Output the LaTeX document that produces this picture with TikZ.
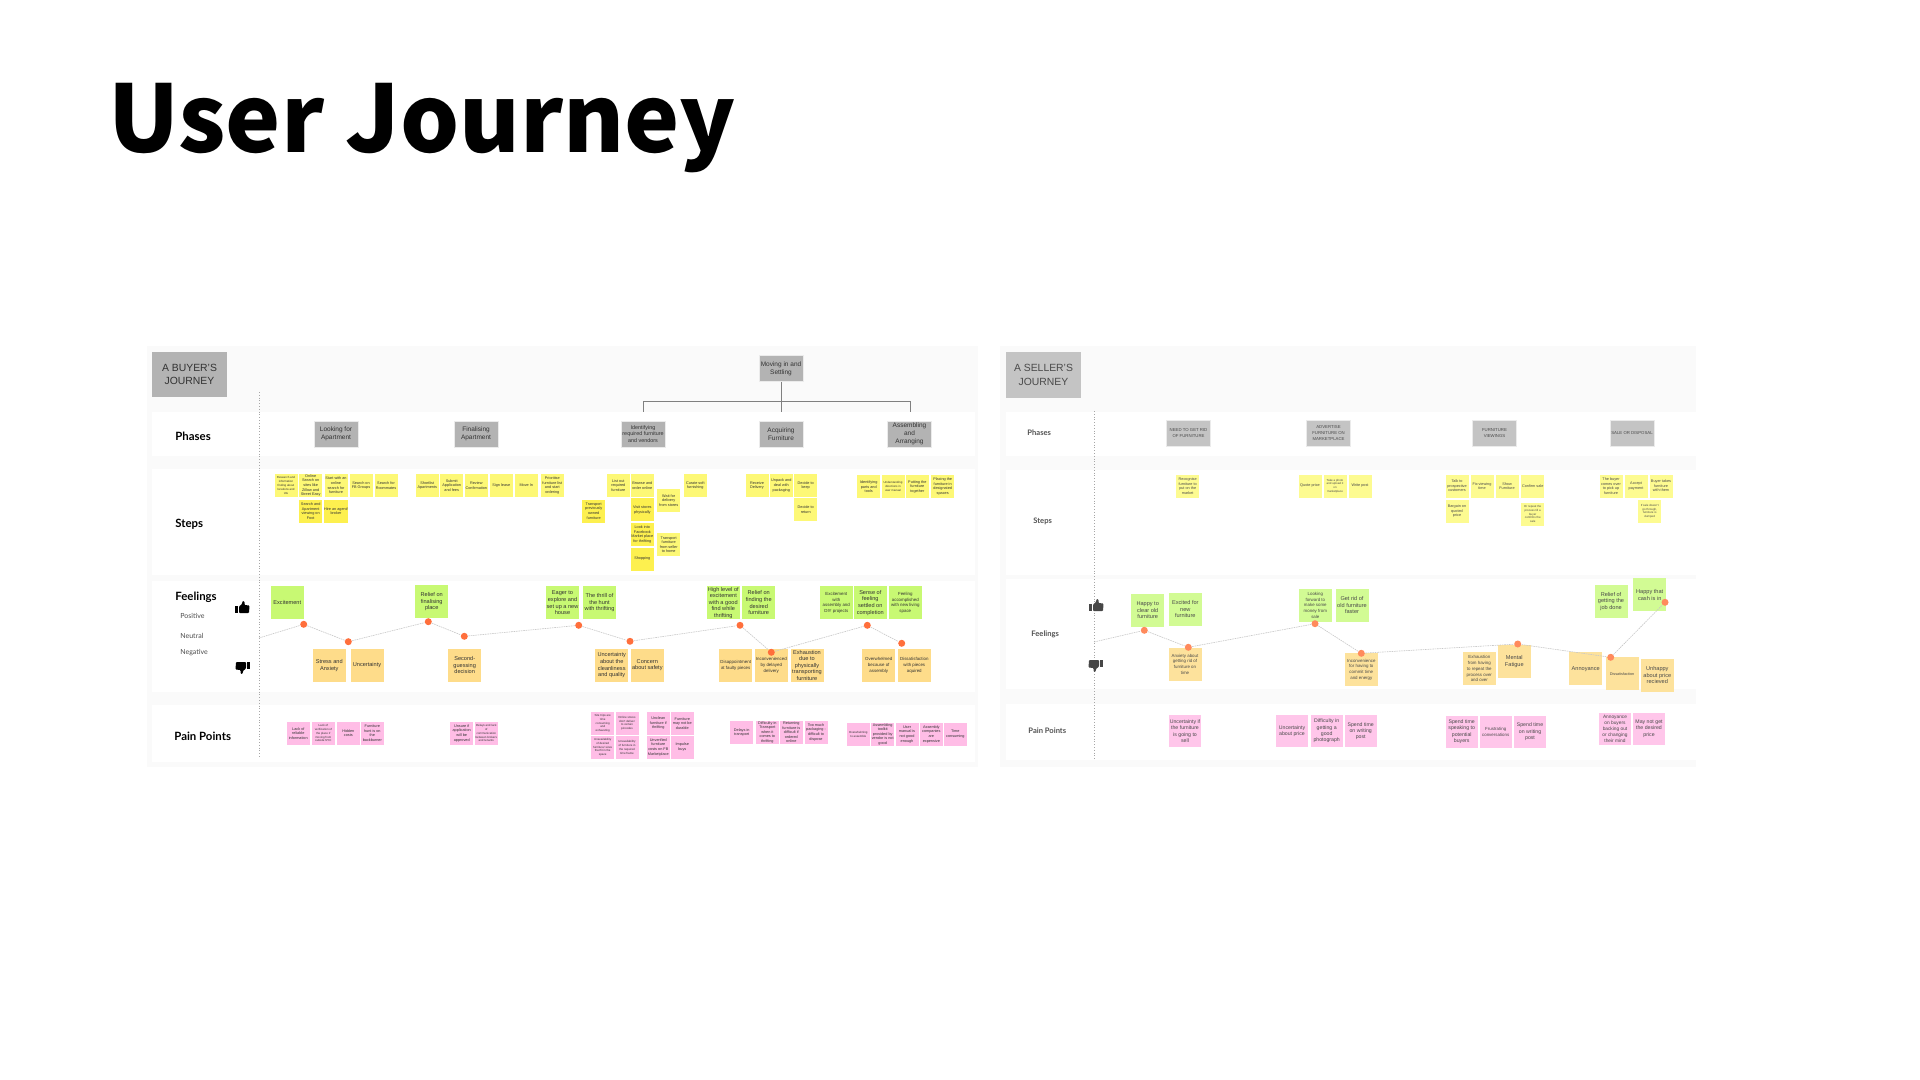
\documentclass[tikz,border=0pt]{standalone}
\usepackage{fontspec}
\setmainfont{Liberation Sans}
\newfontfamily\titlefont{Noto Sans CJK SC}
\newfontfamily\labelfont{Lato}
\usetikzlibrary{calc,positioning,shapes.geometric}

\definecolor{paneltint}{HTML}{FAFAFA}
\definecolor{boxa}{HTML}{B3B3B3}
\definecolor{boxb}{HTML}{C4C4C4}
\definecolor{yellowa}{HTML}{FDF876}
\definecolor{yellowb}{HTML}{FDF04F}
\definecolor{yellowc}{HTML}{FDFB91}
\definecolor{greena}{HTML}{C8F973}
\definecolor{greenb}{HTML}{D2FB94}
\definecolor{orangea}{HTML}{FEDC8A}
\definecolor{orangeb}{HTML}{FDE29C}
\definecolor{pinka}{HTML}{FFBDE6}
\definecolor{pinkb}{HTML}{FFC6EA}
\definecolor{dota}{HTML}{FF6F3C}
\definecolor{dotb}{HTML}{FF8A5C}
\definecolor{inka}{HTML}{333333}
\definecolor{inkb}{HTML}{4A4A4A}

\tikzset{
	note/.style={inner sep=0pt, align=center, text=inka},
	steptext/.style={font=\fontsize{1.9}{2.3}\selectfont},
	tinytext/.style={font=\fontsize{1.45}{1.9}\selectfont},
	stepnote/.style={note, steptext, fill=yellowa, minimum size=11.5pt},
	stepdark/.style={stepnote, fill=yellowb},
	steplight/.style={stepnote, fill=yellowc, text=inkb},
	moodtext/.style={font=\fontsize{2.8}{3.3}\selectfont},
	moodsmall/.style={font=\fontsize{2.2}{2.9}\selectfont},
	goodnote/.style={note, moodtext, fill=greena, minimum size=16.5pt},
	goodlight/.style={goodnote, fill=greenb, text=inkb},
	badnote/.style={note, moodtext, fill=orangea, minimum size=16.5pt},
	badlight/.style={badnote, fill=orangeb, text=inkb},
	painnote/.style={note, steptext, fill=pinka, minimum size=11.5pt},
	painlight/.style={note, font=\fontsize{2.6}{3.15}\selectfont, fill=pinkb, text=inkb, minimum size=16pt},
	phasebox/.style={note, font=\fontsize{3.25}{4}\selectfont, fill=boxa, draw=black!8, line width=.3pt, minimum width=22pt, minimum height=13pt},
	phaselight/.style={phasebox, font=\fontsize{2.15}{3.2}\selectfont, fill=boxb, text=inkb},
	journeybox/.style={note, font=\fontsize{5.2}{6.7}\selectfont, fill=boxa, minimum width=37.5pt, minimum height=22.5pt},
	rowlabel/.style={font=\labelfont\bfseries\fontsize{5.7}{6}\selectfont, anchor=west, inner sep=0pt},
	rowsmall/.style={font=\labelfont\bfseries\fontsize{3.8}{4}\selectfont, anchor=west, inner sep=0pt, text=inka!85},
	moodlabel/.style={font=\labelfont\fontsize{3.5}{4}\selectfont, anchor=west, inner sep=0pt, text=black!70},
	mooddot/.style={circle, fill=dota, inner sep=0pt, minimum size=3.5pt},
	mooddotb/.style={mooddot, fill=dotb},
	moodline/.style={dash pattern=on .8pt off .4pt, draw=black!22, line width=.3pt},
	guide/.style={densely dotted, draw=black!35, line width=.4pt},
	treeline/.style={draw=black!50, line width=.45pt},
	thumbup/.pic={
		\fill (0,5) rectangle (3,12);
		\fill[rounded corners=.4pt] (4,12) -- (4,5.5) -- (7,3) -- (7.5,0) -- (9.5,.5) -- (9.5,4) -- (14.5,4.5) -- (14,12) -- cycle;
	},
}

\begin{document}
\begin{tikzpicture}[x=.5pt, y=-.5pt]
\useasboundingbox (0,0) rectangle (1920,1080);

% panels
\fill[paneltint] (147,346) rectangle (978,767);
\fill[paneltint] (1000,346) rectangle (1696,767);
\fill[white] (152,412) rectangle (975,456);
\fill[white] (152,469) rectangle (975,575);
\fill[white] (152,581) rectangle (975,692);
\fill[white] (152,705) rectangle (975,762);
\fill[white] (1006,412) rectangle (1696,456);
\fill[white] (1006,470) rectangle (1696,575);
\fill[white] (1006,579) rectangle (1696,689);
\fill[white] (1006,704) rectangle (1696,760);

\node[font=\titlefont\bfseries\fontsize{46.5}{50}\selectfont, anchor=base west, inner sep=0pt] (title) at (108,153) {User Journey};

% guides
\coordinate (guide a top) at (259,392);
\coordinate (guide a end) at (259,757);
\coordinate (guide b top) at (1094,411);
\coordinate (guide b end) at (1094,759);
\draw[guide] (guide a top) -- (guide a end);
\draw[guide] (guide b top) -- (guide b end);

% buyer: headers
\node[journeybox]		(buyer)  at (189.5,374.5) {A BUYER'S\\JOURNEY};
\node[phasebox]			(look)   at (336,434)   {Looking for\\Apartment};
\node[phasebox]			(final)  at (476,434)   {Finalising\\Apartment};
\node[phasebox, font=\fontsize{2.7}{3.3}\selectfont] (ident) at (643,434) {Identifying\\required furniture\\and vendors};
\node[phasebox]			(acquire) at (781,434)  {Acquiring\\Furniture};
\node[phasebox]			(assemble) at (909.5,434) {Assembling\\and\\Arranging};
\node[phasebox]			(moving) at (781,368.5) {Moving in and\\Settling};

\coordinate (split)      at (781,401);
\coordinate (tap ident)  at (643,412);
\coordinate (tap acq)    at (781,412);
\coordinate (tap assem)  at (910,412);
\draw[treeline] (moving) -- (split) -| (tap ident);
\draw[treeline] (split) -| (tap assem);
\draw[treeline] (split) -- (tap acq);

\node[rowlabel]		(lab phases) at (175,436) {Phases};
\node[rowlabel]		(lab steps)  at (175,524) {Steps};
\node[rowlabel]		(lab feel)   at (175,597) {Feelings};
\node[moodlabel]	(lab pos)    at (180,616) {Positive};
\node[moodlabel]	(lab neu)    at (180,636) {Neutral};
\node[moodlabel]	(lab neg)    at (180,653) {Negative};
\node[rowlabel]		(lab pain)   at (174,736) {Pain Points};
\pic at (235,601) {thumbup};
\pic[rotate=180] at (250,674) {thumbup};

% buyer: steps
\node[stepnote, tinytext] (s1)  at (286,485.5)   {Research and\\information\\finding about\\locations and\\Uts};
\node[stepnote]	(s2)  at (310.7,485.5) {Online\\Search on\\sites like\\Zillow and\\Street Easy};
\node[stepnote]	(s3)  at (336,485.5)   {Start with an\\online\\search for\\furniture};
\node[stepnote]	(s4)  at (361,485.5)   {Search on\\FB Groups};
\node[stepnote]	(s5)  at (386,485.5)   {Search for\\Roommates};
\node[stepdark]	(s6)  at (310.7,511.3) {Search and\\Apartment\\viewing on\\Foot};
\node[stepdark]	(s7)  at (336,511.3)   {Hire an agent/\\broker};
\node[stepnote]	(s8)  at (427.3,485.5) {Shortlist\\Apartments};
\node[stepnote]	(s9)  at (451.7,485.5) {Submit\\Application\\and fees};
\node[stepnote]	(s10) at (476.3,485.5) {Review\\Confirmation};
\node[stepnote]	(s11) at (501.3,485.5) {Sign lease};
\node[stepnote]	(s12) at (526.3,485.5) {Move In};
\node[stepnote]	(s13) at (552.3,485.5) {Prioritise\\furniture list\\and start\\ordering};
\node[stepnote]	(s14) at (618.3,485.5) {List out\\required\\furniture};
\node[stepnote]	(s15) at (642.3,485.5) {Browse and\\order online};
\node[stepnote]	(s16) at (668.7,500.5) {Wait for\\delivery\\from stores};
\node[stepnote]	(s17) at (695.3,485.5) {Curate soft\\furnishing};
\node[stepdark]	(s18) at (593.7,511)   {Transport\\previously\\owned\\furniture};
\node[stepdark]	(s19) at (642.3,509.8) {Visit stores\\physically};
\node[stepdark]	(s20) at (642.3,534.7) {Look into\\Facebook\\Market place\\for thrifting};
\node[stepdark]	(s21) at (642.3,559)   {Shopping};
\node[stepnote]	(s22) at (668.7,544.7) {Transport\\furniture\\from seller\\to home};
\node[stepnote]	(s23) at (757,485.5)   {Receive\\Delivery};
\node[stepnote]	(s24) at (781.3,485.5) {Unpack and\\deal with\\packaging};
\node[stepnote]	(s25) at (805.7,485.5) {Decide to\\keep};
\node[stepnote]	(s26) at (805.7,509.7) {Decide to\\return};
\node[stepnote]	(s27) at (868.7,486.7) {Identifying\\parts and\\tools};
\node[stepnote, tinytext] (s28) at (893,486.7) {Understanding\\directions in\\user manual};
\node[stepnote]	(s29) at (917.3,486.7) {Putting the\\furniture\\together};
\node[stepnote]	(s30) at (942.7,486.7) {Placing the\\furniture in\\designated\\spaces};

% buyer: feelings
\node[goodnote]	(g1)  at (287.3,602)   {Excitement};
\node[goodnote]	(g2)  at (431.7,601.7) {Relief on\\finalising\\place};
\node[goodnote]	(g3)  at (562.5,602.8) {Eager to\\explore and\\set up a new\\house};
\node[goodnote]	(g4)  at (599.5,602.8) {The thrill of\\the hunt\\with thrifting};
\node[goodnote]	(g5)  at (723.3,602.8) {High level of\\excitement\\with a good\\find while\\thrifting};
\node[goodnote]	(g6)  at (758.7,602.8) {Relief on\\finding the\\desired\\furniture};
\node[goodnote, moodsmall] (g7) at (836.3,602.8) {Excitement\\with\\assembly and\\DIY projects};
\node[goodnote]	(g8)  at (870.3,602.8) {Sense of\\feeling\\settled on\\completion};
\node[goodnote, moodsmall] (g9) at (905.3,602.8) {Feeling\\accomplished\\with new living\\space};

\node[badnote]	(b1)  at (329.3,665.3) {Stress and\\Anxiety};
\node[badnote]	(b2)  at (367,665.3)   {Uncertainty};
\node[badnote]	(b3)  at (464.7,665.3) {Second-\\guessing\\decision};
\node[badnote]	(b4)  at (611.7,665.3) {Uncertainty\\about the\\cleanliness\\and quality};
\node[badnote]	(b5)  at (647.3,665.3) {Concern\\about safety};
\node[badnote, moodsmall] (b6) at (735.7,665.3) {Disappointment\\at faulty pieces};
\node[badnote, moodsmall] (b7) at (771.3,665.3) {Inconvenienced\\by delayed\\delivery};
\node[badnote]	(b8)  at (807,665.3)   {Exhaustion\\due to\\physically\\transporting\\furniture};
\node[badnote, moodsmall] (b9) at (878.7,665.3) {Overwhelmed\\because of\\assembly};
\node[badnote, moodsmall] (b10) at (914.3,665.3) {Dissatisfaction\\with pieces\\aquired};

\coordinate (mood a start) at (259,638);
\node[mooddot]	(d1)  at (303.7,624.3) {};
\node[mooddot]	(d2)  at (348.3,641.7) {};
\node[mooddot]	(d3)  at (428.3,621.7) {};
\node[mooddot]	(d4)  at (464.3,636.3) {};
\node[mooddot]	(d5)  at (578.7,625.3) {};
\node[mooddot]	(d6)  at (630,641.3)   {};
\node[mooddot]	(d7)  at (740,625.3)   {};
\node[mooddot]	(d8)  at (771.3,652.3) {};
\node[mooddot]	(d9)  at (867.3,625.3) {};
\node[mooddot]	(d10) at (901.7,643.3) {};
\draw[moodline] (mood a start) -- (d1) -- (d2) -- (d3) -- (d4) -- (d5) -- (d6) -- (d7) -- (d8) -- (d9) -- (d10);

% buyer: pain points
\node[painnote]	(p1)  at (298.3,733.3) {Lack of\\reliable\\information};
\node[painnote, tinytext] (p2) at (323.3,733.3) {Lack of\\verification of\\the place if\\moving from\\outside NYC};
\node[painnote]	(p3)  at (348.3,733.3) {Hidden\\costs};
\node[painnote]	(p4)  at (372.3,733.3) {Furniture\\hunt is on\\the\\backburner};
\node[painnote]	(p5)  at (461.7,733.3) {Unsure if\\application\\will be\\approved};
\node[painnote, tinytext] (p6) at (486.3,733.3) {Delays and lack\\of\\communication\\between brokers\\and tenants};
\node[painnote, tinytext] (p7) at (602.7,723.3) {Site trips are\\time\\consuming\\and\\exhausting};
\node[painnote, tinytext] (p8) at (627,723.3) {Online stores\\don't deliver\\to certain\\pincodes};
\node[painnote, tinytext] (p9) at (602.7,747.3) {Unavailability\\of desired\\furniture/ sizes\\that fit in the\\space};
\node[painnote, tinytext] (p10) at (627,747.3) {Unavailability\\of furniture in\\the required\\time frame};
\node[painnote]	(p11) at (658.3,723.3) {Unclean\\furniture if\\thrifting};
\node[painnote]	(p12) at (682.3,723.3) {Furniture\\may not be\\durable};
\node[painnote]	(p13) at (658.3,747.3) {Unverified\\furniture\\costs on FB\\Marketplace};
\node[painnote]	(p14) at (682.3,747.3) {Impulse\\buys};
\node[painnote]	(p15) at (741.7,732.7) {Delays in\\transport};
\node[painnote]	(p16) at (767.3,732.3) {Difficulty in\\Transport\\when it\\comes to\\thrifting};
\node[painnote]	(p17) at (791.3,732.3) {Returning\\furniture is\\difficult if\\ordered\\online};
\node[painnote]	(p18) at (816,732.3)   {Too much\\packaging -\\difficult to\\dispose};
\node[painnote, tinytext] (p19) at (858.3,734.3) {Overwhelming\\to assemble};
\node[painnote]	(p20) at (882.7,734.3) {Assembling\\toolkit\\provided by\\vendor is not\\good};
\node[painnote]	(p21) at (907,734.3)   {User\\manual is\\not good\\enough};
\node[painnote]	(p22) at (931.3,734.3) {Assembly\\companies\\are\\expensive};
\node[painnote]	(p23) at (955.3,734.3) {Time\\consuming};

% seller: headers
\node[journeybox, fill=boxb, text=inkb] (seller) at (1043.5,375) {A SELLER'S\\JOURNEY};
\node[phaselight]	(need)   at (1188.5,433) {NEED TO GET RID\\OF FURNITURE};
\node[phaselight]	(advert) at (1328.5,433) {ADVERTISE\\FURNITURE ON\\MARKETPLACE};
\node[phaselight]	(view)   at (1494.5,433) {FURNITURE\\VIEWINGS};
\node[phaselight]	(sale)   at (1632,433)   {SALE OR DISPOSAL};

\node[rowsmall]		(lab phases b) at (1027,433) {Phases};
\node[rowsmall]		(lab steps b)  at (1033,521) {Steps};
\node[rowsmall]		(lab feel b)   at (1031,634) {Feelings};
\node[rowsmall]		(lab pain b)   at (1028,731) {Pain Points};
\pic[inka!90] at (1089,599) {thumbup};
\pic[rotate=180, inka!90] at (1103,672) {thumbup};

% seller: steps
\node[steplight]	(t1)  at (1187.7,486)  {Recognise\\furniture to\\put on the\\market};
\node[steplight]	(t2)  at (1310,486)    {Quote price};
\node[steplight, tinytext] (t3) at (1335,486) {Take a photo\\and upload it\\on\\marketplace};
\node[steplight]	(t4)  at (1360,486)    {Write post};
\node[steplight]	(t5)  at (1457,486)    {Talk to\\prospective\\customers};
\node[steplight]	(t6)  at (1482,486)    {Fix viewing\\time};
\node[steplight]	(t7)  at (1507,486)    {Show\\Furniture};
\node[steplight]	(t8)  at (1532.7,486)  {Confirm sale};
\node[steplight]	(t9)  at (1457,511.3)  {Bargain on\\quoted\\price};
\node[steplight, tinytext] (t10) at (1532.7,514) {Or repeat the\\process till a\\buyer\\confirms the\\sale};
\node[steplight]	(t11) at (1611,486)    {The buyer\\comes over\\to pick up\\furniture};
\node[steplight]	(t12) at (1636,486)    {Accept\\payment};
\node[steplight]	(t13) at (1661,486)    {Buyer takes\\furniture\\with them};
\node[steplight, tinytext] (t14) at (1649.7,511.3) {If sale doesn't\\go through,\\furniture is\\dumped};

% seller: feelings
\node[goodlight]	(h1)  at (1147.7,610.3) {Happy to\\clear old\\furniture};
\node[goodlight]	(h2)  at (1185.3,609.3) {Excited for\\new\\furniture};
\node[goodlight, moodsmall] (h3) at (1315.3,605.3) {Looking\\forward to\\make some\\money from\\sale};
\node[goodlight]	(h4)  at (1352,605.3)   {Get rid of\\old furniture\\faster};
\node[goodlight]	(h5)  at (1611,601.3)   {Relief of\\getting the\\job done};
\node[goodlight]	(h6)  at (1649.7,594.7) {Happy that\\cash is in};

\node[badlight, moodsmall] (n1) at (1185,664.3) {Anxiety about\\getting rid of\\furniture on\\time};
\node[badlight, moodsmall] (n2) at (1361.3,669.7) {Inconvenience\\for having to\\commit time\\and energy};
\node[badlight, moodsmall] (n3) at (1479.3,668.7) {Exhaustion\\from having\\to repeat the\\process over\\and over};
\node[badlight]		(n4)  at (1514.3,661.3) {Mental\\Fatigue};
\node[badlight]		(n5)  at (1585.7,668.7) {Annoyance};
\node[badlight, font=\fontsize{1.9}{2.3}\selectfont] (n6) at (1622,673.7) {Dissatisfaction};
\node[badlight]		(n7)  at (1657.3,675.3) {Unhappy\\about price\\recieved};

\coordinate (mood b start) at (1094,642);
\node[mooddotb]	(e1)  at (1144.3,630.3) {};
\node[mooddotb]	(e2)  at (1188.3,647.3) {};
\node[mooddotb]	(e3)  at (1315,623.7)   {};
\node[mooddotb]	(e4)  at (1361.3,653.3) {};
\node[mooddotb]	(e5)  at (1517.7,644)   {};
\node[mooddotb]	(e6)  at (1610.7,657.3) {};
\node[mooddotb]	(e7)  at (1665,602.3)   {};
\draw[moodline] (mood b start) -- (e1) -- (e2) -- (e3) -- (e4) -- (e5) -- (e6) -- (e7);

% seller: pain points
\node[painlight]	(q1)  at (1185,731)     {Uncertainty if\\the furniture\\is going to\\sell};
\node[painlight]	(q2)  at (1292,731)     {Uncertainty\\about price};
\node[painlight]	(q3)  at (1326.7,731)   {Difficulty in\\getting a\\good\\photograph};
\node[painlight]	(q4)  at (1360.7,731)   {Spend time\\on writing\\post};
\node[painlight]	(q5)  at (1461.7,731.7) {Spend time\\speaking to\\potential\\buyers};
\node[painlight, font=\fontsize{2.2}{3}\selectfont] (q6) at (1495.7,731.7) {Frustrating\\conversations};
\node[painlight]	(q7)  at (1530,731.7)   {Spend time\\on writing\\post};
\node[painlight, font=\fontsize{2.4}{3}\selectfont] (q8) at (1615,728.7) {Annoyance\\on buyers\\backing out\\or changing\\their mind};
\node[painlight]	(q9)  at (1649,728.7)   {May not get\\the desired\\price};
\end{tikzpicture}
\end{document}
